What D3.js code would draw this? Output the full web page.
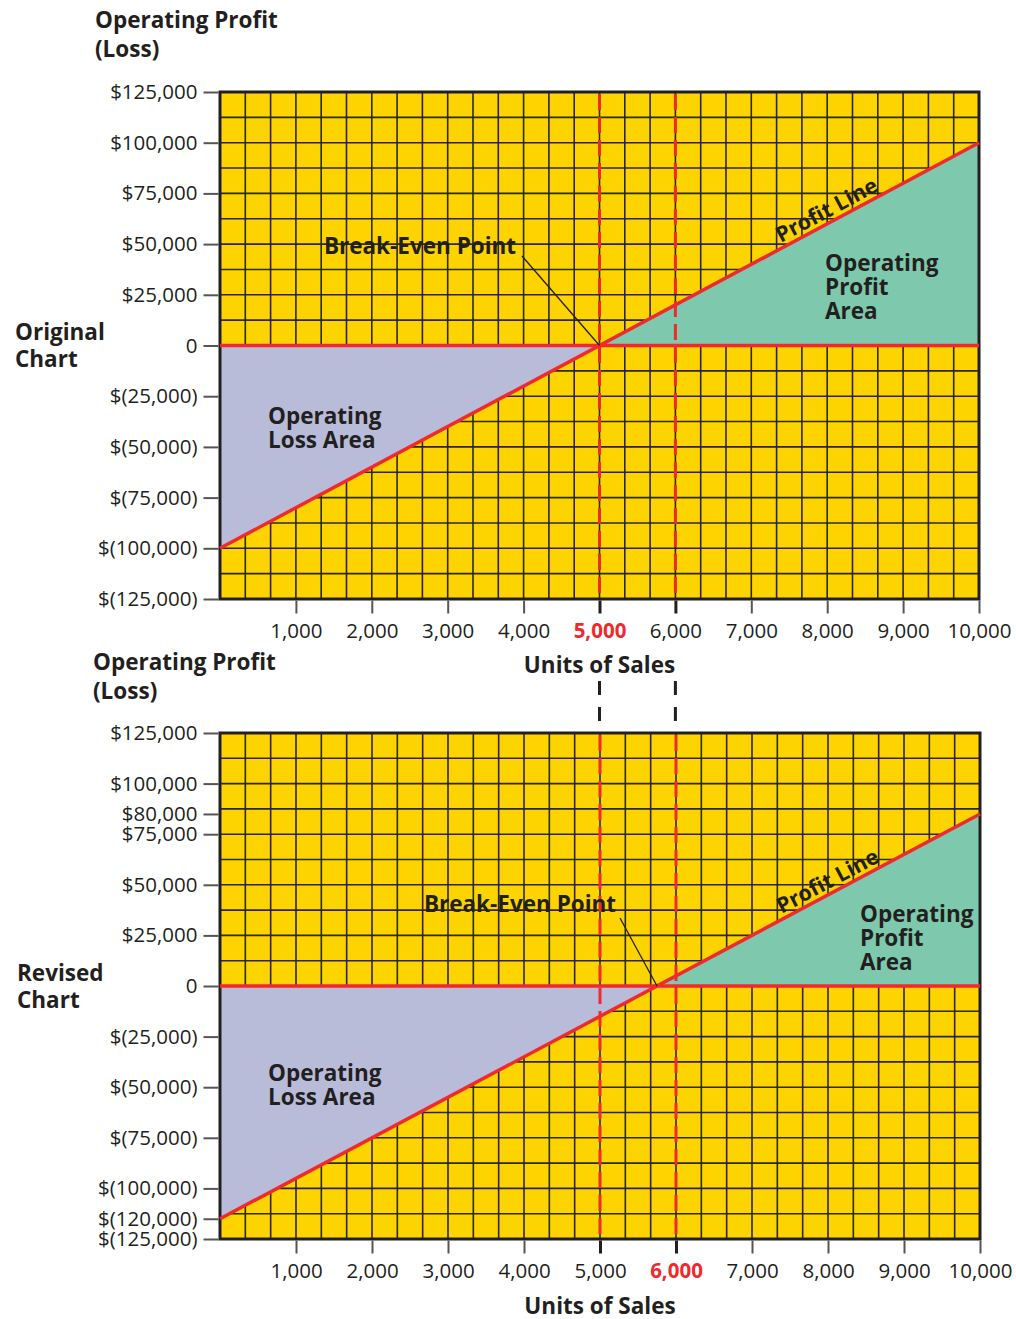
<!DOCTYPE html>
<html><head><meta charset="utf-8">
<script src="https://cdn.jsdelivr.net/npm/d3@7"></script>
<style>
body{margin:0;background:#fff;}
svg text{font-family:"Open Sans","Noto Sans",sans-serif;}
</style></head>
<body><svg id="c" width="1016" height="1319"></svg>
<script>
// ---- data ----
const xTicks = [1000,2000,3000,4000,5000,6000,7000,8000,9000,10000];
const xTickLabels = ["1,000","2,000","3,000","4,000","5,000","6,000","7,000","8,000","9,000","10,000"];
const origYTicks = [125000,100000,75000,50000,25000,0,-25000,-50000,-75000,-100000,-125000];
const origYLabels = ["$125,000","$100,000","$75,000","$50,000","$25,000","0","$(25,000)","$(50,000)","$(75,000)","$(100,000)","$(125,000)"];
// revised chart: tick values placed where the picture draws them
const revYTicks = [125000,100000,85000,75000,50000,25000,0,-25000,-50000,-75000,-100000,-115000,-125000];
const revYLabels = ["$125,000","$100,000","$80,000","$75,000","$50,000","$25,000","0","$(25,000)","$(50,000)","$(75,000)","$(100,000)","$(120,000)","$(125,000)"];
const origLine = [[0,-100000],[10000,100000]];   // units, profit
const revLine  = [[0,-115000],[10000,85000]];
const markers = [5000,6000];
const origHighlight = 5000, revHighlight = 6000;

const YEL="#fdd400", LAV="#b8bcd8", GRN="#7ec9ad", RED="#ee2a2f", INK="#231f20";
const svg = d3.select("#c");

function chart(cfg){
  const x = d3.scaleLinear().domain([0,10000]).range([cfg.x0,cfg.x1]);
  const y = d3.scaleLinear().domain([-125000,125000]).range([cfg.y1,cfg.y0]);
  const g = svg.append("g");
  g.append("rect").attr("x",x(0)).attr("y",y(125000)).attr("width",x(10000)-x(0)).attr("height",y(-125000)-y(125000)).attr("fill",YEL);
  const gx = d3.range(1,30).map(i=>i*10000/30);
  const gy = d3.range(1,20).map(i=>-125000+i*12500);
  g.selectAll(".gx").data(gx).join("line").attr("x1",d=>x(d)).attr("x2",d=>x(d)).attr("y1",y(125000)).attr("y2",y(-125000)).attr("stroke","#2b2720").attr("stroke-width",1.6);
  g.selectAll(".gy").data(gy).join("line").attr("y1",d=>y(d)).attr("y2",d=>y(d)).attr("x1",x(0)).attr("x2",x(10000)).attr("stroke","#2b2720").attr("stroke-width",1.6);
  const L = cfg.line;
  const be = L[0][0] + (0-L[0][1])*(L[1][0]-L[0][0])/(L[1][1]-L[0][1]);
  g.append("path").attr("d",d3.line()([[x(0),y(0)],[x(L[0][0]),y(L[0][1])],[x(be),y(0)]])+"Z").attr("fill",LAV);
  g.append("path").attr("d",d3.line()([[x(be),y(0)],[x(L[1][0]),y(L[1][1])],[x(10000),y(0)]])+"Z").attr("fill",GRN);
  g.append("rect").attr("x",x(0)).attr("y",y(125000)).attr("width",x(10000)-x(0)).attr("height",y(-125000)-y(125000)).attr("fill","none").attr("stroke",INK).attr("stroke-width",3);
  const ya = d3.axisLeft(y).tickValues(cfg.yTicks).tickFormat((d,i)=>cfg.yLabels[i]).tickSize(15).tickPadding(6);
  const ag = g.append("g").attr("transform",`translate(${x(0)-1.5},0)`).call(ya);
  ag.select(".domain").remove();
  ag.selectAll(".tick line").attr("stroke","#555").attr("stroke-width",2);
  ag.selectAll(".tick text").style("font-size","20.5px").style("fill",INK);
  const xa = d3.axisBottom(x).tickValues(xTicks).tickFormat((d,i)=>xTickLabels[i]).tickSize(13).tickPadding(10);
  const xg = g.append("g").attr("transform",`translate(0,${y(-125000)+1.5})`).call(xa);
  xg.select(".domain").remove();
  xg.selectAll(".tick line").attr("stroke",d=>markers.includes(d)?INK:"#555").attr("stroke-width",d=>markers.includes(d)?3:2);
  xg.selectAll(".tick text").style("font-size","20.5px").style("fill",d=>d===cfg.hi?RED:INK).style("font-weight",d=>d===cfg.hi?"700":"400");
  g.selectAll(".mk").data(markers).join("line").attr("x1",d=>x(d)).attr("x2",d=>x(d)).attr("y1",y(125000)+2).attr("y2",y(-125000)-2)
    .attr("stroke",RED).attr("stroke-width",3).attr("stroke-dasharray","16,7");
  g.append("line").attr("x1",x(0)).attr("x2",x(10000)).attr("y1",y(0)).attr("y2",y(0)).attr("stroke",RED).attr("stroke-width",3.5);
  g.append("line").attr("x1",x(L[0][0])).attr("y1",y(L[0][1])).attr("x2",x(L[1][0])).attr("y2",y(L[1][1])).attr("stroke",RED).attr("stroke-width",3.5);
  g.append("line").attr("x1",cfg.beLx).attr("y1",cfg.beLy).attr("x2",x(be)).attr("y2",y(0)).attr("stroke",INK).attr("stroke-width",1.3);
  g.append("text").attr("x",cfg.beTx).attr("y",cfg.beTy).attr("text-anchor","middle").style("font-size","22.5px").style("font-weight","700").style("fill",INK).text("Break-Even Point");
  const ang = Math.atan2(y(L[1][1])-y(L[0][1]), x(L[1][0])-x(L[0][0]))*180/Math.PI;
  const pu = 8070, pv = L[0][1]+(pu-L[0][0])*(L[1][1]-L[0][1])/(L[1][0]-L[0][0]);
  g.append("text").attr("transform",`translate(${x(pu)},${y(pv)}) rotate(${ang}) translate(0,-5)`).attr("text-anchor","middle")
    .style("font-size","21.5px").style("font-weight","700").style("fill",INK).text("Profit Line");
  const ta = g.append("text").attr("x",cfg.paX).attr("y",cfg.paY).style("font-size","22.5px").style("font-weight","700").style("fill",INK);
  ["Operating","Profit","Area"].forEach((t,i)=>ta.append("tspan").attr("x",cfg.paX).attr("dy",i?24:0).text(t));
  const tl = g.append("text").attr("x",268).attr("y",cfg.laY).style("font-size","22.5px").style("font-weight","700").style("fill",INK);
  ["Operating","Loss Area"].forEach((t,i)=>tl.append("tspan").attr("x",268).attr("dy",i?24:0).text(t));
  const tt = g.append("text").attr("x",cfg.tX).attr("y",cfg.tY).style("font-size","22.5px").style("font-weight","700").style("fill",INK);
  ["Operating Profit","(Loss)"].forEach((t,i)=>tt.append("tspan").attr("x",cfg.tX).attr("dy",i?29:0).text(t));
  const ct = g.append("text").attr("x",cfg.cX).attr("y",cfg.cY).style("font-size","22.5px").style("font-weight","700").style("fill",INK);
  cfg.cName.forEach((t,i)=>ct.append("tspan").attr("x",cfg.cX).attr("dy",i?27:0).text(t));
  g.append("text").attr("x",x(5000)).attr("y",cfg.uY).attr("text-anchor","middle").style("font-size","22.5px").style("font-weight","700").style("fill",INK).text("Units of Sales");
  return x;
}

const xTop = chart({x0:220,x1:979,y0:92,y1:599,line:origLine,yTicks:origYTicks,yLabels:origYLabels,hi:origHighlight,
  beLx:522,beLy:256,beTx:420,beTy:254,paX:825,paY:271,laY:424,tX:95,tY:28,cX:15,cY:340,cName:["Original","Chart"],uY:673});
chart({x0:220,x1:980,y0:733,y1:1239,line:revLine,yTicks:revYTicks,yLabels:revYLabels,hi:revHighlight,
  beLx:620,beLy:918,beTx:520,beTy:912,paX:860,paY:922,laY:1081,tX:93,tY:670,cX:17,cY:981,cName:["Revised","Chart"],uY:1314});
svg.selectAll(".cn").data(markers).join("line").attr("x1",d=>xTop(d)).attr("x2",d=>xTop(d)).attr("y1",681).attr("y2",722)
  .attr("stroke",INK).attr("stroke-width",3).attr("stroke-dasharray","14,12");
</script></body></html>
